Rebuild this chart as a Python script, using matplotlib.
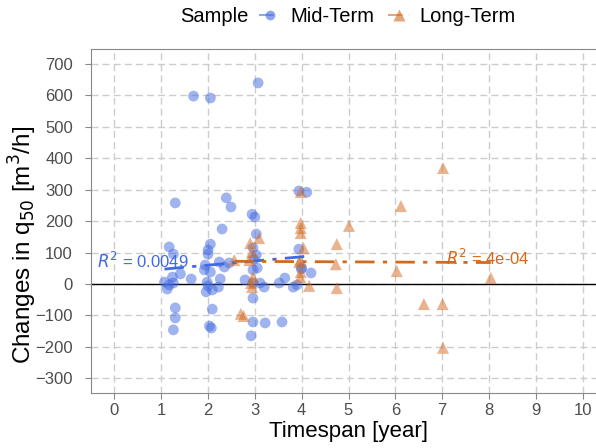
import numpy as np
import matplotlib.pyplot as plt
from matplotlib.lines import Line2D

plt.rcParams['font.family'] = ['Liberation Sans', 'DejaVu Sans']

# === Mid-Term sample ===
mid_x = [1.69, 2.05, 3.07, 1.30, 2.39, 2.49, 2.94, 3.00, 3.94, 4.11,
         2.30, 3.03, 1.17, 1.26, 2.05, 2.00, 2.00, 2.96, 3.03, 1.94,
         1.92, 2.05, 2.24, 2.35, 2.45, 1.24, 1.41, 1.64, 1.07, 1.17,
         1.13, 1.26, 1.98, 2.00, 1.96, 2.09, 2.22, 2.26, 2.09, 1.30,
         1.30, 1.26, 2.03, 2.07, 2.96, 3.05, 2.79, 2.96, 3.11, 3.20,
         2.96, 2.96, 3.22, 2.92, 3.58, 3.52, 3.64, 3.82, 3.90, 3.94,
         3.99, 4.20, 2.98, 4.00]
mid_y = [598, 592, 640, 258, 274, 245, 222, 213, 296, 292,
         175, 159, 118, 95, 127, 108, 95, 115, 92, 60,
         45, 38, 70, 54, 67, 22, 32, 16, 6, -3,
         -16, 3, 6, -6, -25, -19, -10, 16, -80, -76,
         -108, -146, -134, -140, 45, 51, 13, 3, 3, -10,
         -45, -121, -124, -165, -121, 3, 19, -10, -3, 111,
         48, 35, 79, 51]

# === Long-Term sample ===
long_x = [3.98, 3.98, 3.98, 3.98, 4.04, 3.09, 2.90, 2.94, 2.56, 3.97,
          3.95, 3.98, 3.97, 4.16, 5.01, 4.75, 4.73, 4.75, 6.12, 7.02,
          6.03, 8.04, 6.61, 7.01, 7.02, 2.70, 2.76, 2.96, 2.92, 2.94,
          2.88]
long_y = [293, 194, 178, 162, 114, 146, 130, 102, 76, 76,
          70, 38, 22, -6, 185, 127, 63, -13, 248, 369,
          41, 19, -64, -64, -203, -95, -102, 22, 3, -10,
          76]

mid_label = "$R^2$ = 0.0049"
long_label = "$R^2$ = 4e-04"

blue = '#4169E1'
orange = '#D2691E'
dash = (0, (7, 3, 1.5, 3))

fig = plt.figure(figsize=(5.96, 4.48), dpi=100)
ax = fig.add_axes([91 / 596, 1 - 393 / 448, 515 / 596, 344 / 448])

ax.axhline(0, color='black', linewidth=1, zorder=1)

ax.scatter(mid_x, mid_y, s=60, color=blue, alpha=0.5, edgecolors='none', zorder=3)
ax.scatter(long_x, long_y, s=75, marker='^', color=orange, alpha=0.5,
           edgecolors='none', zorder=3)

# linear fits (lm per sample)
for xs, ys, c in [(mid_x, mid_y, blue), (long_x, long_y, orange)]:
    k, b = np.polyfit(xs, ys, 1)
    xx = np.array([min(xs), max(xs)])
    ax.plot(xx, k * xx + b, color=c, linewidth=2, linestyle=dash, zorder=4)

ax.text(-0.37, 72, mid_label, color=blue, fontsize=12, va='center', ha='left', zorder=5)
ax.text(7.08, 83, long_label, color=orange, fontsize=12, va='center', ha='left', zorder=5)

ax.set_xlim(-0.5, 10.5)
ax.set_ylim(-347, 748)
ax.set_xticks(range(0, 11))
ax.set_yticks(range(-300, 701, 100))
ax.grid(True, color='#CCCCCC', linestyle=(0, (5, 3)), linewidth=1)
ax.set_axisbelow(True)
for s in ax.spines.values():
    s.set_color('#888888')
ax.tick_params(colors='#888888', labelcolor='#4D4D4D', labelsize=12, length=4)
ax.tick_params(axis='y', pad=9)

ax.set_xlabel("Timespan [year]", fontsize=16, labelpad=2)
ax.set_ylabel("Changes in q$_{50}$ [m$^3$/h]", fontsize=17.5)
ax.yaxis.set_label_coords(-0.101, 0.43)

handles = [
    Line2D([], [], color=blue, marker='o', markersize=7, alpha=0.6,
           markeredgecolor='none', linestyle=dash, linewidth=1.5),
    Line2D([], [], color=orange, marker='^', markersize=8, alpha=0.6,
           markeredgecolor='none', linestyle=dash, linewidth=1.5),
]
fig.text(180 / 596, 1 - 17 / 448, "Sample", fontsize=14.5, va='center', ha='left')
fig.legend(handles, ["Mid-Term", "Long-Term"], loc='center left',
           bbox_to_anchor=(259 / 596, 1 - 17 / 448), ncol=2, frameon=False,
           fontsize=14.5, handlelength=1.05, handletextpad=0.5, columnspacing=0.7,
           borderaxespad=0, borderpad=0)

fig.savefig("out.png", dpi=100)
